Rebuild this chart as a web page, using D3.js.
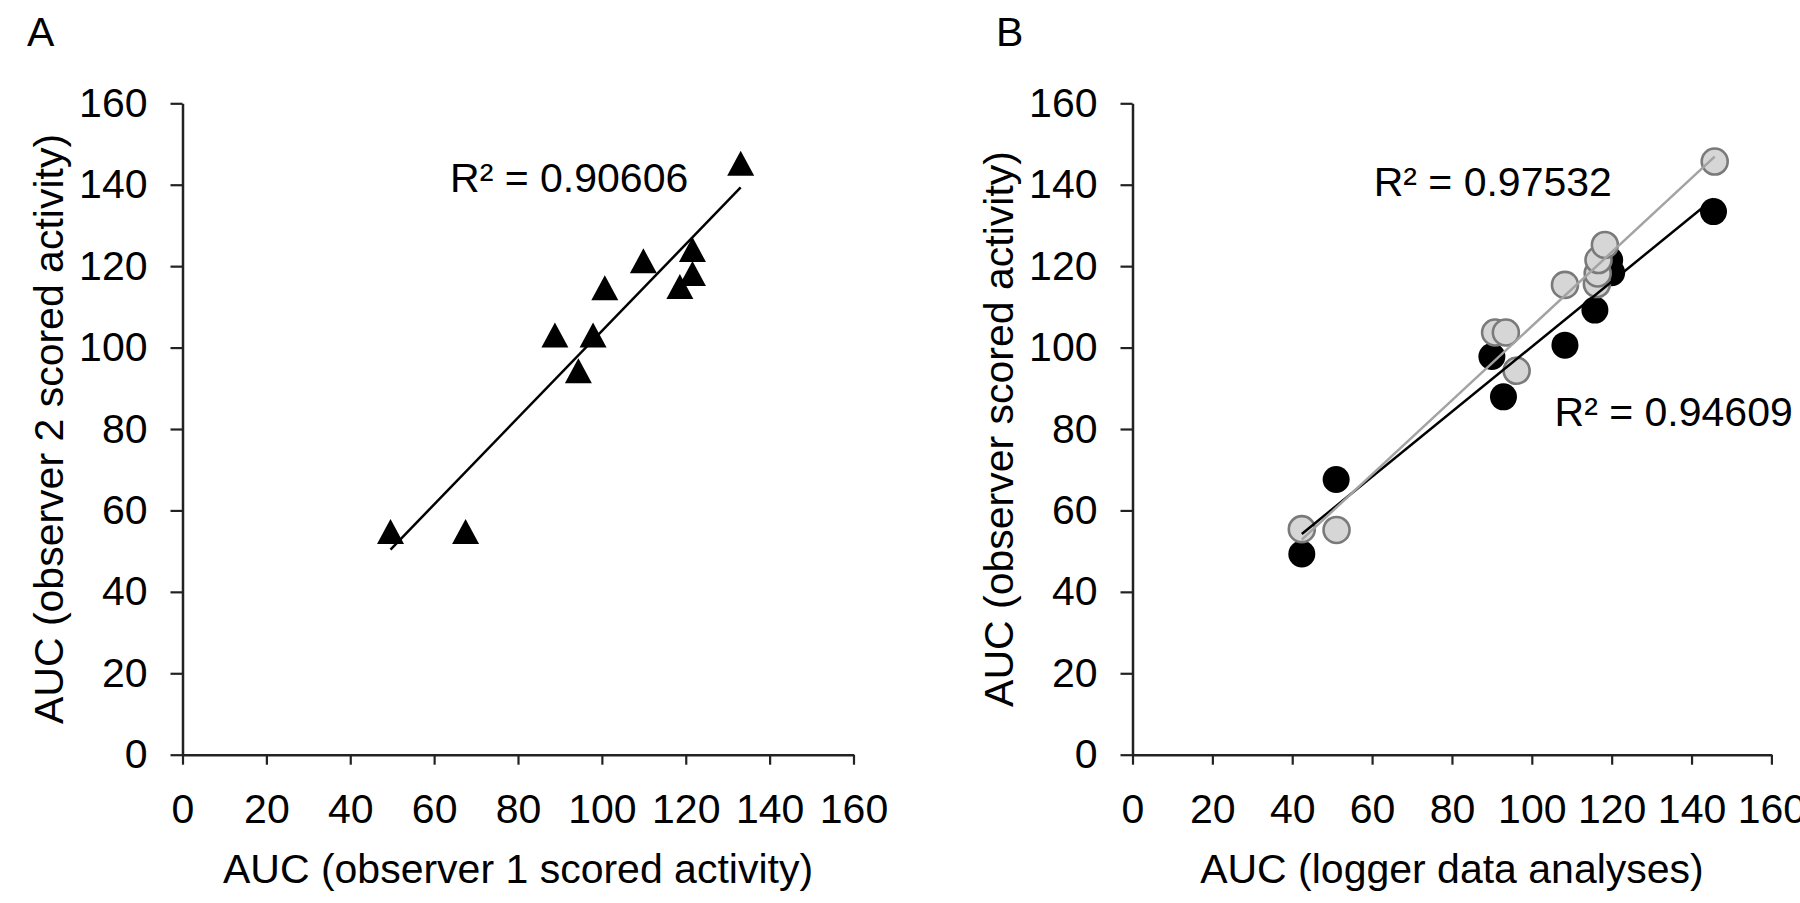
<!DOCTYPE html>
<html>
<head>
<meta charset="utf-8">
<script src="https://cdn.jsdelivr.net/npm/d3@7/dist/d3.min.js"></script>
<style>
  body { margin: 0; background: #fff; }
  svg { display: block; }
</style>
</head>
<body>
<svg id="chart"></svg>
<script>
// Panel A: observer 1 vs observer 2 scored activity (AUC)
const obs1A = [49.6, 67.5, 88.8, 97.9, 94.4, 100.7, 109.9, 118.6, 121.6, 121.6, 133.1];
const obs2A = [54.8, 54.8, 103.1, 103.1, 94.3, 114.7, 121.3, 115.0, 118.2, 124.1, 145.3];

// Panel B: logger data vs observer scored activity, two series
const loggerBlack = [42.4, 51.0, 90.0, 92.9, 96.2, 108.3, 115.8, 117.5, 119.5, 120.0, 145.5];
const obsBlack    = [49.3, 67.6, 97.8, 87.9, 94.4, 100.6, 109.2, 121.6, 121.5, 118.4, 133.4];
const loggerGray  = [42.4, 51.1, 90.8, 93.5, 96.2, 108.3, 116.3, 116.5, 116.7, 118.3, 145.8];
const obsGray     = [55.4, 55.2, 103.7, 103.7, 94.3, 115.4, 115.6, 118.2, 121.5, 125.2, 145.7];

const tickValues = [0, 20, 40, 60, 80, 100, 120, 140, 160];
const panelLabels = ["A", "B"];
const xTitles = ["AUC (observer 1 scored activity)", "AUC (logger data analyses)"];
const yTitles = ["AUC (observer 2 scored activity)", "AUC (observer scored activity)"];
const r2Labels = ["R\u00b2 = 0.90606", "R\u00b2 = 0.97532", "R\u00b2 = 0.94609"];

const W = 1800, H = 903;
const font = "'Liberation Sans', Arial, sans-serif";
const fontSize = 41;

const svg = d3.select("#chart")
    .attr("width", W)
    .attr("height", H)
    .attr("font-family", font);

// least squares line over the data range
function fitLine(xs, ys) {
    const mx = d3.mean(xs), my = d3.mean(ys);
    let sxy = 0, sxx = 0;
    xs.forEach((x, i) => { sxy += (x - mx) * (ys[i] - my); sxx += (x - mx) * (x - mx); });
    const b = sxy / sxx, a = my - b * mx;
    const [x0, x1] = d3.extent(xs);
    return [[x0, a + b * x0], [x1, a + b * x1]];
}

function panel(cfg) {
    const x = d3.scaleLinear().domain([0, 160]).range([cfg.left, cfg.right]);
    const y = d3.scaleLinear().domain([0, 160]).range([754.7, 103.3]);

    const g = svg.append("g");

    g.append("text")
        .attr("x", cfg.labelX)
        .attr("y", 46)
        .attr("font-size", fontSize)
        .text(cfg.label);

    const xAxis = g.append("g")
        .attr("transform", `translate(0,${y(0)})`)
        .call(d3.axisBottom(x).tickValues(tickValues).tickSize(10).tickSizeOuter(0).tickPadding(29));
    const yAxis = g.append("g")
        .attr("transform", `translate(${x(0)},0)`)
        .call(d3.axisLeft(y).tickValues(tickValues).tickSize(12).tickSizeOuter(0).tickPadding(23));

    [xAxis, yAxis].forEach(ax => {
        ax.attr("font-family", font).attr("font-size", fontSize);
        ax.select(".domain").attr("stroke", "#222").attr("stroke-width", 2.5);
        ax.selectAll(".tick line").attr("stroke", "#222").attr("stroke-width", 2.2);
        ax.selectAll(".tick text").attr("fill", "#000");
    });

    g.append("text")
        .attr("x", (cfg.left + cfg.right) / 2)
        .attr("y", 883)
        .attr("text-anchor", "middle")
        .attr("font-size", fontSize)
        .text(cfg.xTitle);

    g.append("text")
        .attr("transform", `translate(${x(0) - 120},${(y(0) + y(160)) / 2}) rotate(-90)`)
        .attr("text-anchor", "middle")
        .attr("font-size", fontSize)
        .text(cfg.yTitle);

    cfg.series.forEach(s => {
        const pts = s.xs.map((v, i) => [v, s.ys[i]]);
        g.append("g")
            .selectAll("path")
            .data(pts)
            .join("path")
            .attr("transform", d => `translate(${x(d[0])},${y(d[1])})`)
            .attr("d", s.shape)
            .attr("fill", s.fill)
            .attr("stroke", s.stroke)
            .attr("stroke-width", s.strokeWidth);
    });

    cfg.series.forEach(s => {
        const seg = fitLine(s.xs, s.ys);
        g.append("line")
            .attr("x1", x(seg[0][0])).attr("y1", y(seg[0][1]))
            .attr("x2", x(seg[1][0])).attr("y2", y(seg[1][1]))
            .attr("stroke", s.lineColor)
            .attr("stroke-width", 2.5);
    });

    cfg.notes.forEach(n => {
        g.append("text")
            .attr("x", x(n.at[0]))
            .attr("y", y(n.at[1]))
            .attr("font-size", fontSize)
            .text(n.text);
    });
}

const triangle = "M0,-12.5L13.5,12.5L-13.5,12.5Z";
const circle = d3.symbol(d3.symbolCircle, Math.PI * 13.5 * 13.5)();

panel({
    left: 182.5, right: 853.5, labelX: 27,
    label: panelLabels[0], xTitle: xTitles[0], yTitle: yTitles[0],
    series: [
        {xs: obs1A, ys: obs2A, shape: triangle, fill: "#000", stroke: "none", strokeWidth: 0, lineColor: "#000"}
    ],
    notes: [{at: [63.8, 138.2], text: r2Labels[0]}]
});

panel({
    left: 1132.5, right: 1771.4, labelX: 996,
    label: panelLabels[1], xTitle: xTitles[1], yTitle: yTitles[1],
    series: [
        {xs: loggerBlack, ys: obsBlack, shape: circle, fill: "#000", stroke: "none", strokeWidth: 0, lineColor: "#000"},
        {xs: loggerGray, ys: obsGray, shape: d3.symbol(d3.symbolCircle, Math.PI * 13 * 13)(), fill: "#d6d6d6", stroke: "#7a7a7a", strokeWidth: 2.6, lineColor: "#a3a3a3"}
    ],
    notes: [
        {at: [60.4, 137.2], text: r2Labels[1]},
        {at: [105.7, 80.7], text: r2Labels[2]}
    ]
});
</script>
</body>
</html>
